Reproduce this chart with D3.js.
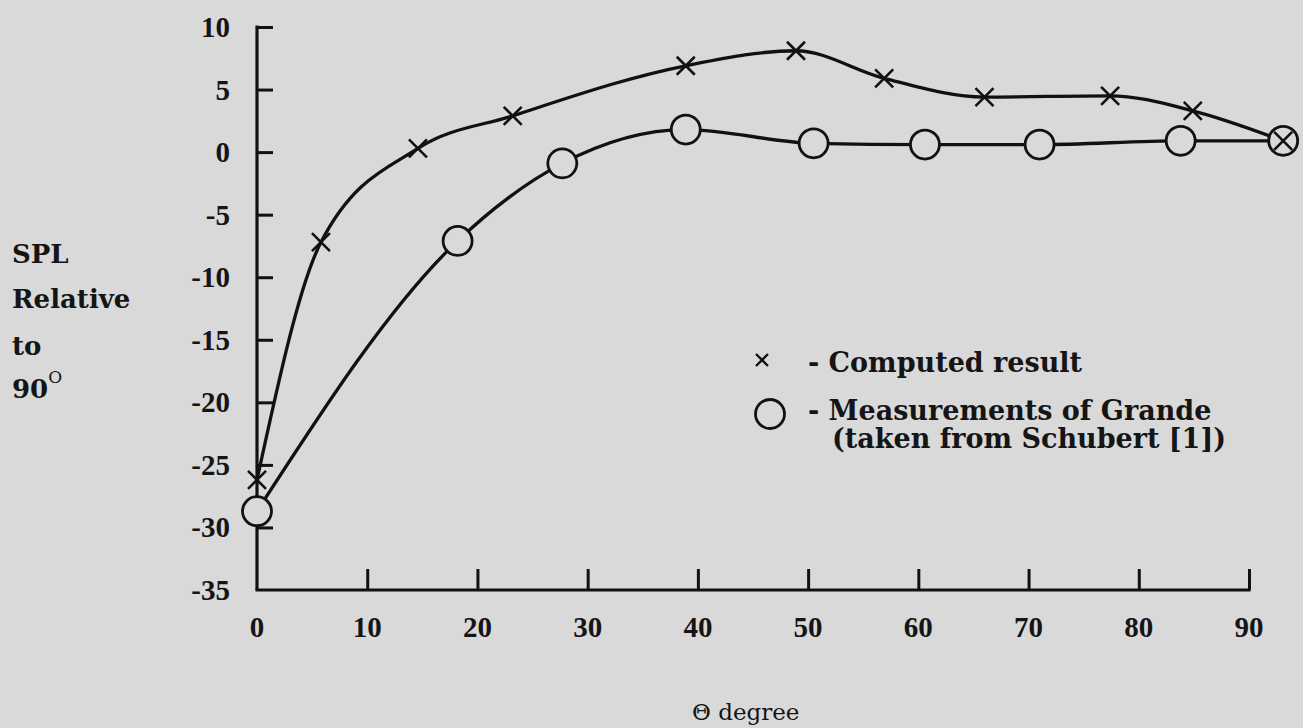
<!DOCTYPE html>
<html><head><meta charset="utf-8">
<script src="https://cdn.jsdelivr.net/npm/d3@7"></script>
<style>
html,body{margin:0;padding:0;background:#d9d9d9;}
svg{display:block;}
text{font-family:"DejaVu Serif",serif;fill:#151515;}
.num{font-family:"Liberation Serif",serif;font-weight:bold;}
</style></head>
<body>
<svg id="c" width="1303" height="728"></svg>
<script>
// Data
const computedTheta = [0, 5.8, 14.6, 23.2, 38.9, 48.9, 56.9, 66.0, 77.4, 84.9, 93.1];
const computedSPL   = [-26.2, -7.2, 0.3, 2.9, 6.9, 8.1, 5.9, 4.4, 4.5, 3.3, 0.9];
const measuredTheta = [0, 18.2, 27.7, 38.9, 50.5, 60.6, 71.0, 83.8, 93.1];
const measuredSPL   = [-28.7, -7.1, -0.9, 1.8, 0.7, 0.6, 0.6, 0.9, 0.9];
const xTicks = [0, 10, 20, 30, 40, 50, 60, 70, 80, 90];
const yTicks = [10, 5, 0, -5, -10, -15, -20, -25, -30, -35];
const yTitle = ["SPL", "Relative", "to", "90"];
const legendLabels = ["- Computed result", "- Measurements of Grande", "(taken from Schubert [1])"];

const svg = d3.select("#c");
const ink = "#111";
const bg = "#d9d9d9";
const x = d3.scaleLinear().domain([0, 90]).range([257, 1249]);
const y = d3.scaleLinear().domain([-35, 10]).range([590, 27]);

// axes
const xAxis = svg.append("g").attr("transform", `translate(0,${y(-35)})`)
  .call(d3.axisTop(x).tickValues(xTicks.filter(d => d > 0)).tickSize(21).tickFormat(""));
const yAxis = svg.append("g").attr("transform", `translate(${x(0)},0)`)
  .call(d3.axisRight(y).tickValues(yTicks.filter(d => d > -35)).tickSize(16).tickFormat(""));
[xAxis, yAxis].forEach(g => {
  g.selectAll(".domain").remove();
  g.selectAll(".tick line").attr("stroke", ink).attr("stroke-width", 3);
});
svg.append("line").attr("x1", x(0) - 1.5).attr("x2", x(90) + 1.5).attr("y1", y(-35)).attr("y2", y(-35))
  .attr("stroke", ink).attr("stroke-width", 3.2);
svg.append("line").attr("x1", x(0)).attr("x2", x(0)).attr("y1", y(-35)).attr("y2", y(10) - 1.5)
  .attr("stroke", ink).attr("stroke-width", 3.2);

// tick labels
svg.selectAll(".xl").data(xTicks).join("text").attr("class", "num")
  .attr("x", d => x(d)).attr("y", 637).attr("text-anchor", "middle")
  .attr("font-size", 29).text(d => d);
svg.selectAll(".yl").data(yTicks).join("text").attr("class", "num")
  .attr("x", 230).attr("y", d => y(d) + 10).attr("text-anchor", "end")
  .attr("font-size", 29).text(d => d);

// titles
svg.append("text").attr("x", 692).attr("y", 720).attr("text-anchor", "start")
  .attr("font-size", 23).text("Θ degree");
const ytBase = [263, 308, 355, 398];
yTitle.forEach((t, i) => {
  const tx = svg.append("text").attr("x", 12).attr("y", ytBase[i]).attr("font-size", 26)
    .attr("font-weight", "bold").text(t);
  if (i === 3) tx.append("tspan").attr("dy", -15).attr("font-size", 17).attr("font-weight", "normal").text("O");
});

// curves
const line = d3.line().curve(d3.curveMonotoneX);
const cPts = computedTheta.map((t, i) => [x(t), y(computedSPL[i])]);
const mPts = measuredTheta.map((t, i) => [x(t), y(measuredSPL[i])]);
svg.append("path").attr("d", line(cPts)).attr("fill", "none").attr("stroke", ink).attr("stroke-width", 3.3);
svg.append("path").attr("d", line(mPts)).attr("fill", "none").attr("stroke", ink).attr("stroke-width", 3.3);

// markers
function cross(g, cx, cy, s, w) {
  g.append("path").attr("d", `M${cx - s},${cy - s}L${cx + s},${cy + s}M${cx - s},${cy + s}L${cx + s},${cy - s}`)
    .attr("stroke", ink).attr("stroke-width", w).attr("fill", "none");
}
svg.selectAll(".m").data(mPts).join("circle")
  .attr("cx", d => d[0]).attr("cy", d => d[1]).attr("r", 14.5)
  .attr("fill", bg).attr("stroke", ink).attr("stroke-width", 2.8);
const cg = svg.append("g");
cPts.forEach(p => cross(cg, p[0], p[1], 9, 2.6));

// legend
cross(svg, 762, 360, 6, 2.4);
svg.append("circle").attr("cx", 770).attr("cy", 414).attr("r", 14.5)
  .attr("fill", "none").attr("stroke", ink).attr("stroke-width", 2.8);
svg.append("text").attr("x", 808).attr("y", 372).attr("font-size", 27).attr("font-weight", "bold").text(legendLabels[0]);
svg.append("text").attr("x", 808).attr("y", 420).attr("font-size", 27).attr("font-weight", "bold").text(legendLabels[1]);
svg.append("text").attr("x", 832).attr("y", 448).attr("font-size", 27).attr("font-weight", "bold").text(legendLabels[2]);
</script>
</body></html>
